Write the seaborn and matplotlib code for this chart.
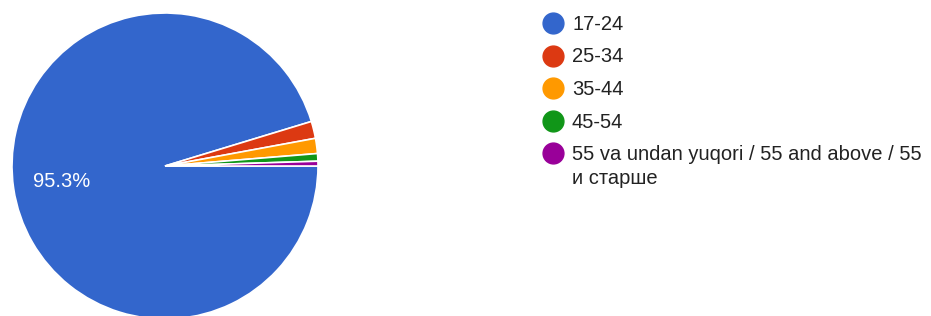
import matplotlib
matplotlib.use("Agg")
import matplotlib.pyplot as plt
from matplotlib.lines import Line2D
import seaborn as sns

sns.set_theme(style="white")
plt.rcParams['font.family'] = ['Liberation Sans', 'DejaVu Sans']

categories = ["17-24", "25-34", "35-44", "45-54",
              "55 va undan yuqori / 55 and above / 55\nи старше"]
values = [95.3, 1.8, 1.6, 0.8, 0.5]
colors = ["#3366cc", "#dc3912", "#ff9900", "#109618", "#990099"]

W, H = 931, 316
fig = plt.figure(figsize=(W / 100, H / 100), dpi=100)
ax = fig.add_axes([12 / W, -3 / H, 306 / W, 306 / H])

wedges, texts, autotexts = ax.pie(
    values, colors=colors, startangle=0, counterclock=False,
    wedgeprops=dict(edgecolor="white", linewidth=1.2),
    autopct=lambda p: f"{p:.1f}%" if p > 10 else "",
    pctdistance=0.68, textprops=dict(color="white", fontsize=14.5))
ax.set_xlim(-1, 1)
ax.set_ylim(-1, 1)
ax.set_aspect("equal")
ax.axis("off")

# legend drawn manually (marker aligned with first text line)
for i, (label, c) in enumerate(zip(categories, colors)):
    yc = 23 + 32.5 * i
    fig.add_artist(Line2D([553 / W], [1 - yc / H], transform=fig.transFigure,
                          marker="o", linestyle="", markersize=15,
                          markerfacecolor=c, markeredgecolor=c))
    fig.text(572 / W, 1 - (yc - 8) / H, label, va="top", ha="left",
             fontsize=14.5, color="#222222", linespacing=1.35)

fig.savefig("out.png", dpi=100)
